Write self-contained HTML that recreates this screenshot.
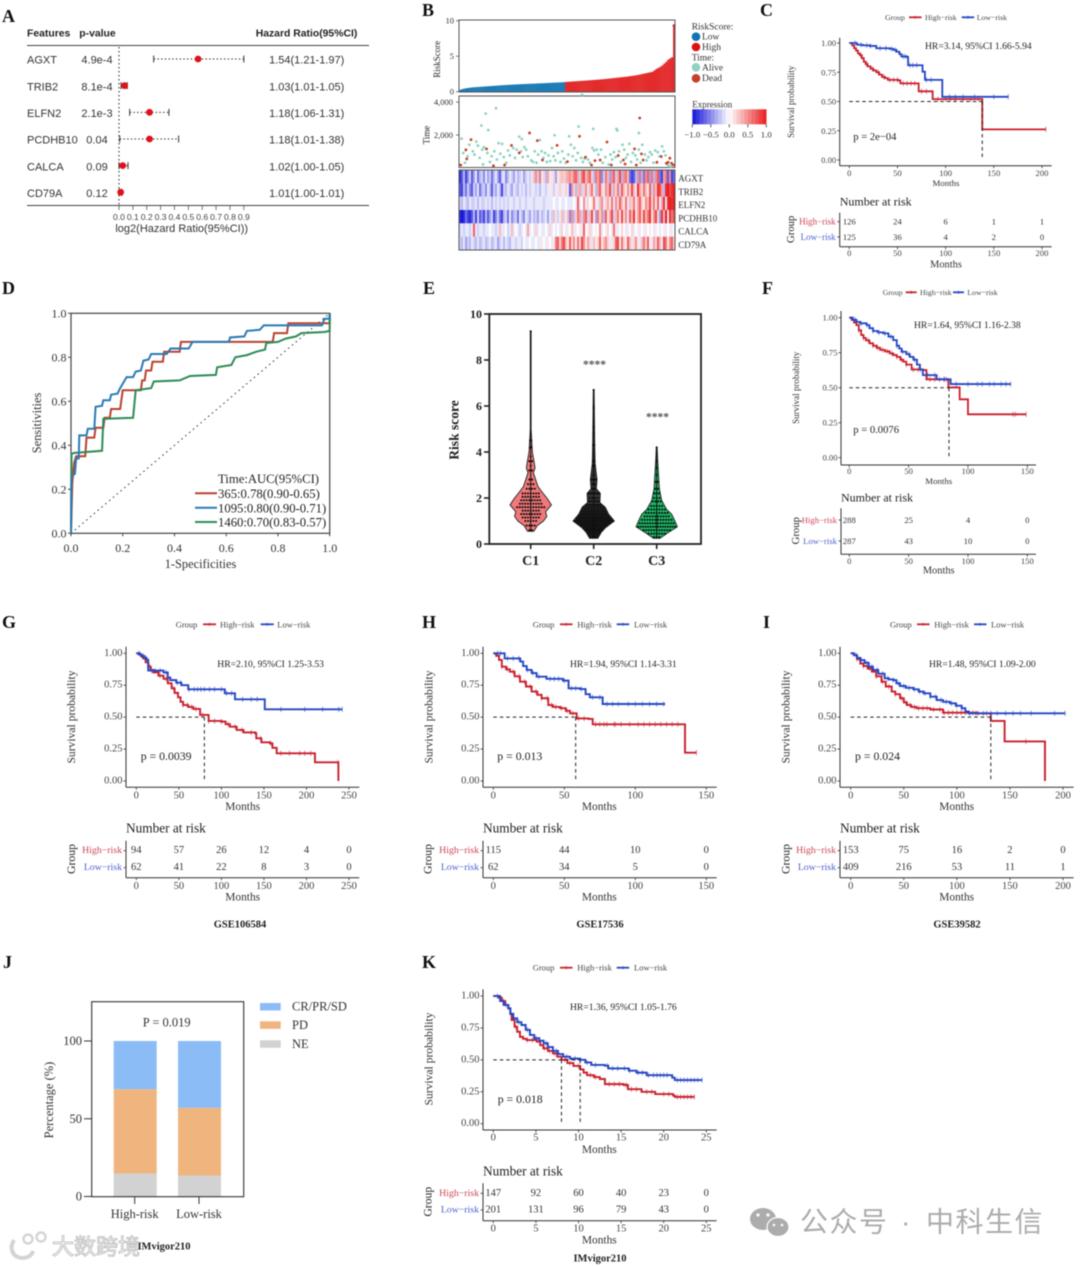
<!DOCTYPE html>
<html lang="en">
<head>
<meta charset="utf-8">
<title>Risk model figure panels</title>
<style>
html,body{margin:0;padding:0;background:#fff;}
body{width:1080px;height:1266px;overflow:hidden;}
#figure{display:block;filter:blur(.5px);}
</style>
</head>
<body>
<svg id="figure" xmlns="http://www.w3.org/2000/svg" width="1080" height="1266" viewBox="0 0 1080 1266">
<rect width="1080" height="1266" fill="#fff"/>
</svg>
<script>
/* ---------- Panel A data ---------- */
const forestFeatures = ["AGXT","TRIB2","ELFN2","PCDHB10","CALCA","CD79A"];
const forestPValues = ["4.9e-4","8.1e-4","2.1e-3","0.04","0.09","0.12"];
const forestHrLabels = ["1.54(1.21-1.97)","1.03(1.01-1.05)","1.18(1.06-1.31)","1.18(1.01-1.38)","1.02(1.00-1.05)","1.01(1.00-1.01)"];
const forestCenter = [0.57,0.04,0.22,0.22,0.027,0.012];
const forestLow = [0.25,0.015,0.077,0.005,0,0];
const forestHigh = [0.9,0.06,0.36,0.43,0.065,0.02];
const forestTicks = [0,0.1,0.2,0.3,0.4,0.5,0.6,0.7,0.8,0.9];

/* ---------- Panel B data ---------- */
const riskScores = [.25,.35,.42,.48,.52,.56,.6,.62,.64,.66,.68,.7,.72,.74,.76,.78,.8,.82,.84,.86,.88,.9,.92,.94,.95,.97,.98,1,1.01,1.03,1.04,1.06,1.07,1.08,1.1,1.11,1.12,1.13,1.14,1.16,1.17,1.18,1.19,1.2,1.22,1.23,1.24,1.26,1.27,1.28,1.3,1.31,1.33,1.35,1.37,1.39,1.41,1.43,1.45,1.47,1.49,1.51,1.53,1.55,1.57,1.59,1.61,1.63,1.65,1.67,1.69,1.71,1.74,1.76,1.79,1.82,1.85,1.88,1.91,1.94,1.97,2,2.03,2.06,2.09,2.12,2.16,2.2,2.24,2.28,2.33,2.38,2.44,2.5,2.56,2.62,2.68,2.74,2.8,3,3.2,3.35,3.5,3.7,3.95,4.2,4.5,4.7,4.85,9.3];
const riskCutoff = 1.36;
const riskTicks = [0,5,10];
const timeTicks = [2000,4000];
const aliveRank = [3,26,31,34,43,70,73,94,111,128,139,143,156,183,184,209,5,7,10,12,16,18,20,22,24,27,28,29,33,36,38,41,44,46,48,50,52,55,57,59,63,65,67,72,74,76,78,80,84,86,88,90,92,96,98,100,102,104,106,108,110,112,115,118,120,122,124,127,130,132,134,136,138,142,144,146,150,152,155,157,160,162,165,167,170,174,176,178,180,182,186,188,190,192,194,196,198,200,202,205,207,209,211,213,216,218,220,222,224,226,228,231,233,236,238,240,242,244,246];
const aliveTime = [1770,2575,3300,2300,3630,1895,1750,1690,1980,1915,2510,4450,2370,2370,2270,2120,900,300,700,1400,1000,800,1600,1350,600,1100,200,1250,900,350,700,1000,500,1500,850,1450,650,300,1050,750,1200,600,1100,1000,650,1250,1100,700,450,350,1000,300,800,1000,600,900,350,750,400,1200,700,450,900,350,1000,550,300,800,1400,700,1200,450,900,600,350,550,500,300,1200,1050,1100,800,1100,300,650,200,800,500,950,650,1000,350,1400,1100,600,800,1450,350,900,750,500,1100,300,1400,800,450,650,950,800,300,1050,950,700,1300,1000,750,200,100,80];
const deadRank = [210,82,91,140,14,8,172,114,61,32,2,9,70,97,126,147,158,164,185,204,212,191,214,230,193,245,235,243,247,249,241,206,40,53,154,177];
const deadTime = [3030,2120,1650,1915,1710,1090,1565,1360,1360,1150,165,535,905,470,370,640,430,470,740,1150,845,470,470,330,225,580,680,330,270,165,270,165,120,165,165,165];
const patientCount = 251;
const heatGenes = ["AGXT","TRIB2","ELFN2","PCDHB10","CALCA","CD79A"];
const heatAGXT = [-9,-7,-3,-8,-5,-2,-7,-4,-1,-6,-3,-2,-5,-1,-4,-2,-6,-3,-1,-4,-7,-2,-1,-5,-3,-1,-2,-4,-1,-3,-2,-1,-4,-2,-1,-2,-1,3,5,-2,6,-1,2,-3,4,1,-1,2,-4,1,2,3,2,3,4,5,3,6,7,4,-2,6,8,3,5,7,2,-3,6,4,7,-5,-2,6,3,-4,5,7,-2,4,8,-3,5,6,3,-6,-8,-7,-3,5,-5,4,-6,5,7,-4,6,-3,5,7,-6,-8,4,6,-7,5,-8,-6];
const heatTRIB2 = [-7,-8,-3,-6,-2,-5,-7,-2,-4,-1,-6,-3,-2,-5,-1,-3,-7,-2,-4,-1,-3,-8,-2,-3,-1,-2,-4,-1,-2,-3,-1,-2,-1,-3,-1,-2,-1,-1,-2,-1,-3,-1,-1,-2,-1,1,-1,-2,1,-1,2,-1,1,2,-1,-7,5,2,-3,3,4,-2,2,5,-1,3,6,1,-3,4,7,2,-1,5,3,8,-2,4,2,6,-2,7,3,1,5,2,8,3,-1,9,4,2,6,3,1,7,-2,5,3,9,8,4,-3,9,10,8,9,10];
const heatELFN2 = [-2,-3,-1,-2,-3,-1,-2,-2,-1,-3,-1,-2,-2,-1,-2,-1,-3,-1,-2,-1,-2,-1,-2,-1,-2,-1,-1,-2,-1,-1,-2,-1,-1,-2,-1,-1,-1,-2,-1,-1,-1,-1,-2,-1,-1,-1,-1,0,-1,-1,0,-1,-1,0,-1,-1,-1,0,-1,7,-1,0,5,-1,2,0,1,6,1,-1,3,5,-1,2,4,1,6,-1,5,2,7,3,1,6,-1,3,2,6,1,4,7,2,1,5,3,8,2,6,1,7,-1,4,9,-1,9,10,9,10];
const heatPCDHB10 = [-9,-10,-9,-6,-8,-9,-7,-3,-8,-2,-7,-5,-8,-3,-7,-4,-2,-8,-5,-2,-6,-8,-3,-2,-6,-1,-5,-3,-2,-6,-1,-3,-5,-1,-2,-4,-1,-3,-2,-4,-1,-3,-2,-1,-4,-1,-2,3,-1,-2,1,3,-2,1,3,-5,5,-3,2,6,4,-2,5,7,-2,3,8,1,-4,6,2,5,-3,7,1,4,8,-2,3,6,1,8,2,5,-1,7,3,9,1,4,7,2,8,3,6,9,1,5,8,2,-4,9,3,10,-1,9,6,8];
const heatCALCA = [-2,-1,-2,-1,-1,-2,-1,7,-1,-2,-1,-1,-2,-1,-1,0,-1,-1,-2,-1,3,-1,-1,0,-2,-1,3,-1,0,-1,-2,-1,0,-1,4,-1,0,-1,2,-1,0,-1,-1,0,-1,2,-1,0,-1,0,-1,2,0,-1,1,0,3,-1,1,0,1,-1,7,0,1,2,-1,0,1,0,5,-1,0,1,2,0,-1,6,1,-1,0,2,0,-1,1,0,2,-1,0,1,-1,0,1,-1,0,1,0,-1,1,0,-1,0,1,-1,0,1,-1,0];
const heatCD79A = [-2,-3,-1,-4,-2,-3,-1,-2,-3,-1,-3,-2,-1,-3,-2,-1,-3,-2,-1,-4,-2,-1,-3,-1,-2,-3,-1,-1,-2,-1,-1,-2,0,-1,-1,0,-1,-1,0,-1,-1,1,0,-1,1,0,-1,1,6,7,2,6,8,3,1,7,2,5,1,6,2,8,5,1,4,2,-1,3,1,2,7,1,3,5,2,1,-1,2,7,8,1,6,2,1,7,3,-1,2,5,1,-1,3,6,2,7,1,-1,4,2,7,3,-1,8,6,1,5,7,2];

/* ---------- Panel C data ---------- */
const cTicks = [0,50,100,150,200];
const cHighTimes = [3,5,7,9,11,13,15,17,19,22,25,28,31,34,37,40,51,53,72,86.5,138,204];
const cHighSurv = [.98,.955,.935,.91,.895,.87,.84,.82,.80,.78,.765,.75,.73,.71,.70,.685,.68,.655,.587,.52,.262,.262];
const cHighCensor = [12,18,24,30,36,42,46,50,56,60,64,68,75,80,92,100,105,110,118,126,134,204];
const cLowTimes = [8,14,21,28,42,46,49,52,54,60,61,76,78.5,96.5,165];
const cLowSurv = [.985,.98,.975,.955,.95,.94,.925,.905,.885,.88,.81,.755,.685,.54,.54];
const cLowCensor = [6,12,18,22,32,38,44,48,56,58,63,66,70,80,85,104,110,118,130,150,165];
const cRiskHigh = [126,24,6,1,1];
const cRiskLow = [125,36,4,2,0];
const cMedians = [138];

/* ---------- Panel D data ---------- */
const roc365Fpr = [0,.005,.012,.02,.055,.06,.09,.095,.125,.13,.15,.155,.19,.2,.27,.275,.285,.29,.31,.315,.355,.36,.42,.425,.78,.785,.835,.84,1,1];
const roc365Tpr = [0,.23,.32,.35,.35,.435,.435,.48,.48,.525,.525,.565,.565,.65,.65,.695,.695,.74,.74,.78,.78,.825,.825,.87,.87,.91,.91,.955,.955,1];
const roc1095Fpr = [0,.002,.015,.02,.03,.032,.06,.065,.09,.095,.12,.125,.15,.155,.18,.19,.2,.215,.24,.25,.27,.28,.3,.31,.37,.385,.455,.47,.61,.615,.67,.68,.73,.745,.97,.98,1,1];
const roc1095Tpr = [0,.26,.27,.34,.34,.445,.445,.475,.475,.575,.58,.605,.605,.63,.635,.66,.68,.71,.71,.735,.74,.785,.79,.815,.815,.84,.84,.87,.87,.89,.895,.92,.925,.945,.945,.975,.975,1];
const roc1460Fpr = [0,.002,.01,.12,.125,.24,.25,.31,.32,.42,.46,.56,.565,.62,.635,.68,.715,.75,.755,.8,.83,.87,.89,.98,1,1];
const roc1460Tpr = [0,.36,.365,.375,.52,.525,.65,.66,.69,.695,.715,.72,.755,.765,.8,.81,.825,.835,.865,.87,.885,.895,.91,.915,.92,1];
const rocTicks = [0,.2,.4,.6,.8,1];
const rocLegend = ["365:0.78(0.90-0.65)","1095:0.80(0.90-0.71)","1460:0.70(0.83-0.57)"];

/* ---------- Panel E data ---------- */
const violinGroups = ["C1","C2","C3"];
const violinTicks = [0,2,4,6,8,10];
const c1Grid = [.55,.8,1,1.2,1.4,1.7,2,2.2,2.5,2.8,3.1,3.3,3.6,4,4.5,5,9.25];
const c1Density = [.15,.32,.62,.78,.72,1,.78,.6,.35,.24,.13,.21,.16,.08,.05,.02,.02];
const c2Grid = [.25,.5,.7,1,1.3,1.6,1.8,2.2,2.4,2.8,3.5,4.3,6.7];
const c2Density = [.2,.36,.56,1,.72,.56,.3,.32,.13,.16,.07,.05,.02];
const c3Grid = [.25,.5,.75,1,1.3,1.5,1.9,2.4,3.6,4.2];
const c3Density = [.16,.56,1,.88,.72,.48,.24,.13,.05,.02];
const c1Values = [.6,.8,1,1.15,1.3,1.45,1.6,1.75,1.9,2.05,2.2,2.4,2.6,2.8,3.2,3.4,3.6,3.8,4.2,4.5,9.25];
const c1Counts = [2,4,5,7,8,7,11,9,8,7,7,4,3,2,2,1,2,1,2,2,1];
const c2Values = [.3,.4,.5,.6,.7,.8,.9,1,1.1,1.2,1.3,1.4,1.5,1.6,1.7,1.85,2,2.2,2.4,2.6,2.8,3,3.4,3.6,4.3,4.8,5.1,5.9,6,6.7];
const c2Counts = [4,6,9,13,16,18,22,30,22,18,15,13,11,9,8,5,4,7,2,2,4,1,2,2,2,1,1,1,1,1];
const c3Values = [.3,.45,.6,.75,.9,1.05,1.2,1.35,1.5,1.65,1.85,2,2.2,2.4,2.7,3,3.3,3.6,4.2];
const c3Counts = [3,7,11,16,14,12,10,9,7,5,4,3,3,2,2,1,1,1,1];

/* ---------- Panel F data ---------- */
const fTicks = [0,50,100,150];
const fHighTimes = [2,4,6,8,10,12,14,17,20,23,26,30,34,37,40,43,45.5,48,52.5,62,65,83.5,93,100,149];
const fHighSurv = [.985,.965,.947,.91,.876,.855,.838,.817,.80,.785,.77,.76,.745,.733,.72,.70,.686,.665,.63,.626,.56,.502,.417,.31,.31];
const fHighCensor = [8,12,16,20,24,28,32,36,40,44,48,54,58,68,72,76,80,82,138,140,149];
const fLowTimes = [3,6,9,14.6,17,20,24,28.6,33,37,40,42,44,48,51,54,57,59.5,62,73.6,85.4,136];
const fLowSurv = [.985,.97,.96,.947,.925,.905,.895,.888,.865,.84,.80,.78,.757,.74,.72,.70,.665,.63,.59,.56,.526,.526];
const fLowCensor = [5,10,15,20,25,30,35,40,45,50,55,60,66,72,80,90,100,108,112,118,122,128,132,136];
const fRiskHigh = [288,25,4,0];
const fRiskLow = [287,43,10,0];
const fMedians = [84];

/* ---------- Panel G data ---------- */
const gTicks = [0,50,100,150,200,250];
const gHighTimes = [3,6,8,11,14,17,20,26,32,37,41.5,45,49,52,55,61,67,75,85,100,105,110,118,126,140,141,147,157,160,165,210,237.5];
const gHighSurv = [.99,.975,.96,.93,.895,.87,.85,.825,.80,.765,.726,.69,.655,.62,.595,.58,.564,.517,.47,.465,.445,.425,.40,.38,.373,.334,.303,.295,.26,.217,.146,0];
const gHighCensor = [5,10,16,28,35,44,55,60,65,70,78,85,92,100,108,116,124,135,146,158,170,180,192,198,205,237];
const gLowTimes = [4,6,9,12,14,32,37,40,47,53,61,104,116,151,242];
const gLowSurv = [.99,.98,.965,.95,.865,.85,.81,.79,.77,.75,.718,.687,.64,.561,.561];
const gLowCensor = [3,8,11,18,22,28,35,48,52,62,68,72,76,80,86,92,100,106,112,125,135,142,170,198,219,238,242];
const gRiskHigh = [94,57,26,12,4,0];
const gRiskLow = [62,41,22,8,3,0];
const gMedians = [80];

/* ---------- Panel H data ---------- */
const hTicks = [0,50,100,150];
const hHighTimes = [2,4,6,9,11.7,15,18.8,23,27,31,34,38.7,42,47,51,54,58.7,67,70,135,143];
const hHighSurv = [.98,.948,.895,.875,.856,.82,.778,.74,.70,.675,.648,.595,.58,.57,.55,.53,.49,.486,.444,.222,.222];
const hHighCensor = [6,10,14,18,22,26,30,34,38,41,44,48,52,56,60,64,72,75,78,80,85,86,90,96,102,106,110,114,118,122,126,130,143];
const hLowTimes = [6,8,19,21,23.5,27,30.5,37.5,49,53,61,65,68,77,121];
const hLowSurv = [1,.96,.935,.90,.87,.845,.817,.80,.786,.726,.72,.68,.655,.603,.603];
const hLowCensor = [3,5,10,14,18,24,28,32,40,43,46,50,55,58,62,70,75,80,84,88,95,100,105,110,115,120];
const hRiskHigh = [115,44,10,0];
const hRiskLow = [62,34,5,0];
const hMedians = [58];

/* ---------- Panel I data ---------- */
const iTicks = [0,50,100,150,200];
const iHighTimes = [3,6,9,12,16,20,24,29,33,38.6,42,46.5,50,53,57,62,75,87,119,132,145,183];
const iHighSurv = [.985,.955,.92,.90,.88,.856,.82,.778,.74,.70,.68,.648,.615,.595,.58,.57,.56,.535,.53,.47,.31,0];
const iHighCensor = [6,12,18,24,30,36,42,48,52,56,60,64,68,72,78,84,88,92,96,100,104,108,115,120,128,165];
const iLowTimes = [3,6,9,13,17,21,26,32,36,40,43,46.5,52,59,64,68.5,75,81,87,93.5,99,104.5,108,111,202];
const iLowSurv = [.985,.965,.947,.925,.895,.87,.84,.804,.795,.79,.765,.744,.73,.718,.70,.687,.66,.634,.62,.608,.59,.57,.545,.53,.53];
const iLowCensor = [5,10,15,20,25,30,35,40,45,50,55,60,65,70,75,80,85,90,95,100,105,112,118,125,132,138,146,153,160,170,192,202];
const iRiskHigh = [153,75,16,2,0];
const iRiskLow = [409,216,53,11,1];
const iMedians = [132];

/* ---------- Panel J data ---------- */
const stackGroups = ["High-risk","Low-risk"];
const stackNE = [14.8,13.5];
const stackPD = [54.2,43.5];
const stackCR = [31,43];
const stackTicks = [0,50,100];
const stackLegend = ["CR/PR/SD","PD","NE"];

/* ---------- Panel K data ---------- */
const kTicks = [0,5,10,15,20,25];
const kHighTimes = [.6,1,1.4,1.76,2,2.15,2.5,2.8,3.13,3.5,3.9,5.1,5.5,5.87,6.4,7,7.5,8,8.7,9.4,10.2,10.6,11,11.8,12.5,13.1,15.3,15.8,17.4,19,21.1,21.3,23.6];
const kHighSurv = [.987,.96,.93,.903,.86,.812,.76,.72,.68,.665,.655,.642,.615,.59,.57,.55,.525,.50,.475,.452,.425,.40,.38,.365,.35,.31,.303,.27,.25,.232,.22,.21,.21];
const kHighCensor = [1.2,2.6,4,4.6,6,6.6,7.2,8.4,9,10,11.4,12,13.6,14.2,14.8,15.6,16.2,16.8,18,18.6,20,20.6,21.6,22,22.4,22.8,23.2,23.6];
const kLowTimes = [.8,1.2,1.76,2,2.35,2.8,3.3,3.8,4.3,4.8,5.4,5.9,6.4,7,7.6,8.2,9,10.2,10.8,11.5,13.1,13.5,15,15.9,16.8,18,20.5,21,21.3,24.5];
const kLowSurv = [.96,.93,.903,.86,.825,.795,.773,.735,.695,.67,.65,.63,.60,.57,.545,.525,.51,.50,.48,.46,.454,.433,.433,.415,.40,.38,.38,.36,.342,.342];
const kLowCensor = [.5,1.5,3,4,5,6.2,7.4,8.6,9.6,11,12,13.4,14,14.6,15.4,16,17,17.5,18.2,18.8,19.2,19.6,20,20.4,21.6,22,22.4,22.8,23.2,23.6,24,24.5];
const kRiskHigh = [147,92,60,40,23,0];
const kRiskLow = [201,131,96,79,43,0];
const kMedians = [8,10.2];

/* ---------- helpers ---------- */
const SVG_NS = 'http://www.w3.org/2000/svg';
const root = document.getElementById('figure');
const SERIF = '"Liberation Serif", serif';
const SANS = '"Liberation Sans", sans-serif';
function add(parent, tag, attrs, name) {
  const el = document.createElementNS(SVG_NS, tag);
  for (const k in attrs) el.setAttribute(k, attrs[k]);
  
  
  parent.appendChild(el);
  return el;
}
function txt(parent, x, y, str, o, name) {
  const a = Object.assign({x: x, y: y, 'font-family': SERIF, 'font-size': 10, fill: '#222', 'text-anchor': 'start', 'dominant-baseline': 'central'}, o || {});
  const el = add(parent, 'text', a, name);
  el.textContent = str;
  return el;
}
function vtxt(parent, x, y, str, o, name) {
  return txt(parent, x, y, str, Object.assign({transform: 'rotate(-90 ' + x + ' ' + y + ')', 'text-anchor': 'middle'}, o || {}), name);
}
function line(parent, x1, y1, x2, y2, stroke, w, name, extra) {
  return add(parent, 'line', Object.assign({x1: x1, y1: y1, x2: x2, y2: y2, stroke: stroke, 'stroke-width': w}, extra || {}), name);
}
function group(name) { return add(root, 'g', {}, name); }
function panelLetter(letter, x, y) {
  txt(root, x, y, letter, {'font-size': 18, 'font-weight': 'bold', fill: '#111', 'dominant-baseline': 'auto'}, 'panel-label-' + letter.toLowerCase());
}
panelLetter('A', 2, 22); panelLetter('B', 422, 16); panelLetter('C', 760, 16);
panelLetter('D', 2, 294); panelLetter('E', 423, 294); panelLetter('F', 762, 294);
panelLetter('G', 2, 628); panelLetter('H', 422, 628); panelLetter('I', 763, 628);
panelLetter('J', 3, 968); panelLetter('K', 422, 968);

/* ---------- Panel A ---------- */
(function () {
  const g = group('forest-plot-panel');
  const x = v => 119 + v * 138.7;
  const rowText = i => 60.7 + i * 26.66;
  const rowMark = i => 59 + i * 26.66;
  const sans = {'font-family': SANS, 'font-size': 11, fill: '#333'};
  const bold = {'font-family': SANS, 'font-size': 10.4, 'font-weight': 'bold', fill: '#222'};
  txt(g, 27, 34, 'Features', bold, 'features-header');
  txt(g, 79.3, 34, 'p-value', bold, 'p-value-header');
  txt(g, 255.7, 34, 'Hazard Ratio(95%CI)', bold, 'hazard-ratio-header');
  line(g, 27, 45.5, 369, 45.5, '#444', 1, 'forest-top-rule');
  line(g, 27, 205.5, 369, 205.5, '#444', 1, 'forest-bottom-rule');
  line(g, x(0), 47, x(0), 206, '#444', 1.2, 'forest-null-line', {'stroke-dasharray': '1.5 2.5'});
  forestFeatures.forEach((f, i) => {
    txt(g, 27, rowText(i), f, sans, 'feature-label-' + f.toLowerCase());
    txt(g, 97, rowText(i), forestPValues[i], Object.assign({'text-anchor': 'middle'}, sans), 'p-value-' + f.toLowerCase());
    txt(g, 306.7, rowText(i), forestHrLabels[i], Object.assign({'text-anchor': 'middle'}, sans), 'hr-label-' + f.toLowerCase());
    const y = rowMark(i);
    line(g, x(forestLow[i]), y, x(forestHigh[i]), y, '#333', 1, 'ci-line-' + f.toLowerCase(), {'stroke-dasharray': '1.5 2.2'});
    line(g, x(forestLow[i]), y - 3.5, x(forestLow[i]), y + 3.5, '#333', 1, 'ci-low-cap-' + f.toLowerCase());
    line(g, x(forestHigh[i]), y - 3.5, x(forestHigh[i]), y + 3.5, '#333', 1, 'ci-high-cap-' + f.toLowerCase());
    add(g, 'circle', {cx: x(forestCenter[i]), cy: y, r: 3.4, fill: '#e0101c'}, 'hr-point-' + f.toLowerCase());
  });
  forestTicks.forEach(t => {
    line(g, x(t), 206, x(t), 210, '#555', .8, 'forest-x-tick');
    txt(g, x(t), 217, t.toFixed(1), {'font-family': SANS, 'font-size': 8.6, fill: '#444', 'text-anchor': 'middle'}, 'forest-x-tick-label');
  });
  txt(g, 181.7, 229, 'log2(Hazard Ratio(95%CI))', {'font-family': SANS, 'font-size': 11, fill: '#333', 'text-anchor': 'middle'}, 'forest-x-axis-title');
})();

/* ---------- Panel B ---------- */
function heatColor(v) {
  const t = Math.min(1, Math.abs(v) / 10);
  const hi = v < 0 ? [20, 20, 215] : [232, 28, 28];
  const c = hi.map(h => Math.round(255 + (h - 255) * t));
  return 'rgb(' + c.join(',') + ')';
}
(function () {
  const g = group('risk-heatmap-panel');
  const L = 459, R = 675, W = R - L;
  const axisC = '#555';
  const yRisk = v => 91.7 - v * 7.1;
  const bw = W / riskScores.length;
  riskScores.forEach((v, i) => {
    add(g, 'rect', {x: L + i * bw, y: yRisk(v), width: bw + .15, height: 91.7 - yRisk(v), fill: v < riskCutoff ? '#1b7bb5' : '#e32b2b'}, 'risk-score-bar');
  });
  const tp = riskScores[riskScores.length - 1];
  add(g, 'circle', {cx: R - bw / 2, cy: yRisk(tp), r: 1.4, fill: '#c8202e'}, 'max-risk-point');
  add(g, 'rect', {x: L, y: 20, width: W, height: 72, fill: 'none', stroke: axisC, 'stroke-width': 1}, 'risk-score-frame');
  riskTicks.forEach(t => {
    line(g, L - 3, yRisk(t), L, yRisk(t), axisC, .8, 'risk-y-tick');
    txt(g, 454, yRisk(t), String(t), {'font-size': 8.5, 'text-anchor': 'end', fill: '#333'}, 'risk-y-tick-label');
  });
  vtxt(g, 437, 59.3, 'RiskScore', {'font-size': 9}, 'risk-score-axis-title');

  const xRank = r => L + (r / patientCount) * W;
  const yTime = v => 167.7 - v / 61;
  add(g, 'rect', {x: L, y: 96, width: W, height: 71.5, fill: 'none', stroke: axisC, 'stroke-width': 1}, 'time-scatter-frame');
  aliveRank.forEach((r, i) => {
    add(g, 'circle', {cx: xRank(r), cy: yTime(aliveTime[i]), r: 1.4, fill: '#8fd3c0'}, 'alive-point');
  });
  deadRank.forEach((r, i) => {
    add(g, 'circle', {cx: xRank(r), cy: yTime(deadTime[i]), r: 1.4, fill: '#c4402a'}, 'dead-point');
  });
  timeTicks.forEach(t => {
    line(g, L - 3, yTime(t), L, yTime(t), axisC, .8, 'time-y-tick');
    txt(g, 453, yTime(t), t.toLocaleString('en-US'), {'font-size': 8.5, 'text-anchor': 'end', fill: '#333'}, 'time-y-tick-label');
  });
  vtxt(g, 426.7, 135, 'Time', {'font-size': 9}, 'time-axis-title');

  const rows = [heatAGXT, heatTRIB2, heatELFN2, heatPCDHB10, heatCALCA, heatCD79A];
  const rh = 80 / rows.length;
  rows.forEach((vals, ri) => {
    const cw = W / vals.length;
    vals.forEach((v, ci) => {
      add(g, 'rect', {x: L + ci * cw, y: 170 + ri * rh, width: cw + .15, height: rh + .1, fill: heatColor(v)}, 'heatmap-cell');
    });
    txt(g, 678.3, 178.7 + ri * 13.25, heatGenes[ri], {'font-size': 9, fill: '#333'}, 'heatmap-gene-label-' + heatGenes[ri].toLowerCase());
  });
  add(g, 'rect', {x: L, y: 170, width: W, height: 80, fill: 'none', stroke: axisC, 'stroke-width': 1}, 'heatmap-frame');

  const f = {'font-size': 9.5, fill: '#333'};
  txt(g, 691.7, 27.7, 'RiskScore:', f, 'riskscore-legend-title');
  add(g, 'circle', {cx: 696, cy: 36.7, r: 4.3, fill: '#1173b2'}, 'legend-low-marker');
  txt(g, 702, 37.7, 'Low', f, 'legend-low-label');
  add(g, 'circle', {cx: 696, cy: 47, r: 4.3, fill: '#dd1010'}, 'legend-high-marker');
  txt(g, 702, 48, 'High', f, 'legend-high-label');
  txt(g, 691.7, 58.3, 'Time:', f, 'time-legend-title');
  add(g, 'circle', {cx: 696, cy: 67.3, r: 4.3, fill: '#8fd3c0'}, 'legend-alive-marker');
  txt(g, 702, 68.5, 'Alive', f, 'legend-alive-label');
  add(g, 'circle', {cx: 696, cy: 78.3, r: 4.3, fill: '#c4402a'}, 'legend-dead-marker');
  txt(g, 702, 79, 'Dead', f, 'legend-dead-label');
  txt(g, 692.3, 104.7, 'Expression', {'font-size': 9, fill: '#333'}, 'expression-legend-title');
  const bands = 20, bx = 692.3, bwid = 74;
  for (let i = 0; i < bands; i++) {
    add(g, 'rect', {x: bx + i * bwid / bands, y: 109.3, width: bwid / bands + .2, height: 15, fill: heatColor(-10 + (i + .5) * 20 / bands)}, 'expression-legend-band');
  }
  ['\u22121.0', '\u22120.5', '0.0', '0.5', '1.0'].forEach((s, i) => {
    const tx = bx + i * bwid / 4;
    line(g, tx, 124.3, tx, 127.3, '#333', .8, 'expression-tick');
    txt(g, tx, 134.3, s, {'font-size': 8.8, 'text-anchor': 'middle', fill: '#333'}, 'expression-tick-label');
  });
})();

/* ---------- KM plots ---------- */
const KM_RED = '#c8202e', KM_BLUE = '#2446c4';
function survAt(times, surv, t) {
  let s = 1;
  for (let i = 0; i < times.length; i++) { if (times[i] <= t) s = surv[i]; }
  return s;
}
function drawKM(L, D) {
  const g = group(L.name);
  const x = t => L.x0 + (t - D.ticks[0]) * (L.xEnd - L.x0) / (D.ticks[D.ticks.length - 1] - D.ticks[0]);
  const y = s => L.y0 + (L.y1 - L.y0) * s;
  const axis = '#333', tc = '#444';
  /* legend */
  const lf = {'font-size': L.legendFs, fill: '#444'};
  txt(g, L.lg[0], L.legendY, 'Group', lf, 'legend-title');
  line(g, L.lg[1], L.legendY, L.lg[1] + L.lg[2], L.legendY, KM_RED, 1.8, 'legend-high-risk-line');
  line(g, L.lg[1] + L.lg[2] / 2, L.legendY - 1.5, L.lg[1] + L.lg[2] / 2, L.legendY + 1.5, KM_RED, .8, 'legend-high-risk-tick');
  txt(g, L.lg[3], L.legendY, 'High\u2212risk', lf, 'legend-high-risk-label');
  line(g, L.lg[4], L.legendY, L.lg[4] + L.lg[2], L.legendY, KM_BLUE, 1.8, 'legend-low-risk-line');
  line(g, L.lg[4] + L.lg[2] / 2, L.legendY - 1.5, L.lg[4] + L.lg[2] / 2, L.legendY + 1.5, KM_BLUE, .8, 'legend-low-risk-tick');
  txt(g, L.lg[5], L.legendY, 'Low\u2212risk', lf, 'legend-low-risk-label');
  /* series */
  function stepPath(times, surv) {
    let d = 'M' + x(0) + ' ' + y(1);
    times.forEach((t, i) => { d += 'H' + x(t) + 'V' + y(surv[i]); });
    return d;
  }
  function series(times, surv, censor, col, nm) {
    censor.forEach(t => {
      const s = survAt(times, surv, t);
      line(g, x(t), y(s) - 2.6, x(t), y(s) + 2.6, col, 1, nm + '-censor-mark', {opacity: .6});
    });
    add(g, 'path', {d: stepPath(times, surv), fill: 'none', stroke: col, 'stroke-width': L.lineW}, nm + '-survival-curve');
  }
  series(D.highT, D.highS, D.highC, KM_RED, 'high-risk');
  series(D.lowT, D.lowS, D.lowC, KM_BLUE, 'low-risk');
  /* medians */
  const mx = Math.max.apply(null, D.medians);
  line(g, x(0), y(.5), x(mx), y(.5), '#222', 1, 'median-horizontal-line', {'stroke-dasharray': '3.5 3'});
  D.medians.forEach(m => line(g, x(m), y(.5), x(m), y(0), '#222', 1, 'median-vertical-line', {'stroke-dasharray': '3.5 3'}));
  /* axes */
  line(g, L.axL, L.axT, L.axL, L.axB, axis, 1, 'km-y-axis');
  line(g, L.axL, L.axB, L.axR, L.axB, axis, 1, 'km-x-axis');
  [0, .25, .5, .75, 1].forEach(v => {
    line(g, L.axL - 2.5, y(v), L.axL, y(v), axis, .8, 'km-y-tick');
    txt(g, L.axL - 3.5, y(v), v.toFixed(2), {'font-size': L.tickFs, 'text-anchor': 'end', fill: tc}, 'km-y-tick-label');
  });
  D.ticks.forEach(t => {
    line(g, x(t), L.axB, x(t), L.axB + 2.5, axis, .8, 'km-x-tick');
    txt(g, x(t), L.tickY, String(t), {'font-size': L.tickFs, 'text-anchor': 'middle', fill: tc}, 'km-x-tick-label');
  });
  vtxt(g, L.survX, L.survCy, 'Survival probability', {'font-size': L.survFs, fill: '#333'}, 'km-y-axis-title');
  txt(g, L.monthsCx, L.monthsY, 'Months', {'font-size': L.monthsFs, 'text-anchor': 'middle', fill: '#333'}, 'km-x-axis-title');
  txt(g, L.hrX, L.hrY, D.hr, {'font-size': L.hrFs, fill: '#222'}, 'hazard-ratio-annotation');
  txt(g, L.pX, L.pY, D.p, {'font-size': L.pFs, fill: '#222'}, 'p-value-annotation');
  /* risk table */
  txt(g, L.axL, L.narY, 'Number at risk', {'font-size': L.narFs, fill: '#222'}, 'number-at-risk-title');
  line(g, L.axL, L.tT, L.axL, L.tB, axis, 1, 'risk-table-y-axis');
  line(g, L.axL, L.tB, L.axR, L.tB, axis, 1, 'risk-table-x-axis');
  [[L.rH, 'High\u2212risk', '#cc4455', D.riskH, 'high-risk'], [L.rL, 'Low\u2212risk', '#4a5fd0', D.riskL, 'low-risk']].forEach(r => {
    line(g, L.axL - 2.5, r[0], L.axL, r[0], axis, .8, 'risk-table-y-tick');
    txt(g, L.axL - 4, r[0], r[1], {'font-size': L.riskLabFs, 'text-anchor': 'end', fill: r[2]}, r[4] + '-table-label');
    r[3].forEach((n, i) => {
      txt(g, x(D.ticks[i]), r[0], String(n), {'font-size': L.tickFs, 'text-anchor': 'middle', fill: '#333'}, r[4] + '-at-risk-count');
    });
  });
  D.ticks.forEach(t => {
    line(g, x(t), L.tB, x(t), L.tB + 2.5, axis, .8, 'risk-table-x-tick');
    txt(g, x(t), L.tTickY, String(t), {'font-size': L.tickFs, 'text-anchor': 'middle', fill: tc}, 'risk-table-x-tick-label');
  });
  txt(g, L.monthsCx, L.tMonthsY, 'Months', {'font-size': L.tMonthsFs, 'text-anchor': 'middle', fill: '#333'}, 'risk-table-x-axis-title');
  vtxt(g, L.groupX, L.groupCy, 'Group', {'font-size': L.groupFs, fill: '#222'}, 'risk-table-group-title');
  if (L.caption) {
    txt(g, L.captionX, L.captionY, L.caption, {'font-size': 10.5, 'font-weight': 'bold', 'text-anchor': 'middle', fill: '#222'}, 'dataset-caption');
  }
}
const smallKM = {legendFs: 7.8, tickFs: 8.6, survFs: 9, monthsFs: 8.8, hrFs: 9.6, pFs: 10.6, narFs: 12, riskLabFs: 9, tMonthsFs: 10.4, groupFs: 10.7, lineW: 1.8};
const bigKM = {legendFs: 8.5, tickFs: 10.5, survFs: 11.6, monthsFs: 11.4, hrFs: 9.6, pFs: 11.8, narFs: 13.3, riskLabFs: 9.8, tMonthsFs: 11.4, groupFs: 11.7, lineW: 1.9};
const ggRow = {y1: 653.3, y0: 781, axT: 646.7, axB: 787.3, tickY: 796, monthsY: 807, narY: 828, rH: 850.7, rL: 867.7, tT: 840.7, tB: 877.7, tTickY: 886.7, tMonthsY: 897.7, legendY: 624.3, survCy: 717, groupCy: 859, hrY: 664.3, pY: 756, captionY: 925};

drawKM(Object.assign({}, smallKM, {name: 'km-panel-c', x0: 849.3, xEnd: 1042, y1: 43, y0: 160, axL: 839.7, axR: 1051.7, axT: 37.7, axB: 165.7, tickY: 173, monthsY: 183, monthsCx: 946, narY: 201.7, rH: 221.7, rL: 237, tT: 212.7, tB: 246.7, tTickY: 253, tMonthsY: 265, legendY: 17.3, lg: [885, 909, 12.5, 925, 961.7, 976.7], survX: 791, survCy: 101.7, groupX: 791, groupCy: 229.3, hrX: 925, hrY: 46.7, pX: 853.3, pY: 137.3}),
  {ticks: cTicks, highT: cHighTimes, highS: cHighSurv, highC: cHighCensor, lowT: cLowTimes, lowS: cLowSurv, lowC: cLowCensor, riskH: cRiskHigh, riskL: cRiskLow, medians: cMedians, hr: 'HR=3.14, 95%CI 1.66-5.94', p: 'p = 2e\u221204'});
drawKM(Object.assign({}, smallKM, {name: 'km-panel-f', x0: 849.3, xEnd: 1027.3, y1: 317.7, y0: 457.7, axL: 841, axR: 1036, axT: 311, axB: 465, tickY: 471, monthsY: 481, monthsCx: 938.7, narY: 497.7, rH: 520, rL: 541, tT: 508.3, tB: 554.3, tTickY: 561, tMonthsY: 571, legendY: 292.3, lg: [882.7, 905.7, 11, 920, 953, 967.3], survX: 796, survCy: 387.7, groupX: 796, groupCy: 530.7, hrX: 914, hrY: 325.7, pX: 853.3, pY: 430.7, riskLabFs: 8.7}),
  {ticks: fTicks, highT: fHighTimes, highS: fHighSurv, highC: fHighCensor, lowT: fLowTimes, lowS: fLowSurv, lowC: fLowCensor, riskH: fRiskHigh, riskL: fRiskLow, medians: fMedians, hr: 'HR=1.64, 95%CI 1.16-2.38', p: 'p = 0.0076'});
drawKM(Object.assign({}, bigKM, ggRow, {name: 'km-panel-g', x0: 136.3, xEnd: 349, axL: 126, axR: 359.3, monthsCx: 242.7, lg: [175.7, 203, 13, 220, 260.7, 277.3], survX: 71.7, groupX: 71.7, hrX: 217.3, pX: 140.7, caption: 'GSE106584', captionX: 240}),
  {ticks: gTicks, highT: gHighTimes, highS: gHighSurv, highC: gHighCensor, lowT: gLowTimes, lowS: gLowSurv, lowC: gLowCensor, riskH: gRiskHigh, riskL: gRiskLow, medians: gMedians, hr: 'HR=2.10, 95%CI 1.25-3.53', p: 'p = 0.0039'});
drawKM(Object.assign({}, bigKM, ggRow, {name: 'km-panel-h', x0: 493.3, xEnd: 706.3, axL: 483, axR: 716.7, monthsCx: 599.3, lg: [532.7, 560, 12.5, 577.3, 616.7, 634], survX: 429, groupX: 428, hrX: 570, pX: 497.3, caption: 'GSE17536', captionX: 600}),
  {ticks: hTicks, highT: hHighTimes, highS: hHighSurv, highC: hHighCensor, lowT: hLowTimes, lowS: hLowSurv, lowC: hLowCensor, riskH: hRiskHigh, riskL: hRiskLow, medians: hMedians, hr: 'HR=1.94, 95%CI 1.14-3.31', p: 'p = 0.013'});
drawKM(Object.assign({}, bigKM, ggRow, {name: 'km-panel-i', x0: 850.7, xEnd: 1063, axL: 840, axR: 1073.7, monthsCx: 956.7, lg: [890, 917, 12.5, 934.3, 974, 991], survX: 786, groupX: 786, hrX: 929, pX: 855, caption: 'GSE39582', captionX: 957}),
  {ticks: iTicks, highT: iHighTimes, highS: iHighSurv, highC: iHighCensor, lowT: iLowTimes, lowS: iLowSurv, lowC: iLowCensor, riskH: iRiskHigh, riskL: iRiskLow, medians: iMedians, hr: 'HR=1.48, 95%CI 1.09-2.00', p: 'p = 0.024'});
drawKM(Object.assign({}, bigKM, {name: 'km-panel-k', x0: 493.3, xEnd: 706.3, y1: 996, y0: 1123.7, axL: 483, axR: 716.7, axT: 989.3, axB: 1130, tickY: 1138, monthsY: 1150, monthsCx: 599.3, narY: 1171, rH: 1193.3, rL: 1210, tT: 1183.3, tB: 1220.7, tTickY: 1229, tMonthsY: 1240.7, legendY: 967.7, lg: [532.7, 560, 12.5, 577.3, 616.7, 634], survX: 429, survCy: 1059, groupX: 428, groupCy: 1201.7, hrX: 570, hrY: 1007.3, pX: 497.7, pY: 1099, caption: 'IMvigor210', captionX: 600, captionY: 1259}),
  {ticks: kTicks, highT: kHighTimes, highS: kHighSurv, highC: kHighCensor, lowT: kLowTimes, lowS: kLowSurv, lowC: kLowCensor, riskH: kRiskHigh, riskL: kRiskLow, medians: kMedians, hr: 'HR=1.36, 95%CI 1.05-1.76', p: 'p = 0.018'});

/* ---------- Panel D ---------- */
(function () {
  const g = group('roc-curve-panel');
  const x = v => 71 + v * 258.7;
  const y = v => 533.3 - v * 220;
  add(g, 'rect', {x: x(0), y: y(1), width: 258.7, height: 220, fill: 'none', stroke: '#444', 'stroke-width': 1.2}, 'roc-frame');
  line(g, x(0), y(0), x(1), y(1), '#333', 1, 'roc-reference-diagonal', {'stroke-dasharray': '1.5 3.5'});
  function curve(fpr, tpr, col, nm) {
    const pts = fpr.map((f, i) => x(f) + ',' + y(tpr[i])).join(' ');
    add(g, 'polyline', {points: pts, fill: 'none', stroke: col, 'stroke-width': 2}, nm);
  }
  curve(roc365Fpr, roc365Tpr, '#b8432f', 'roc-curve-365');
  curve(roc1460Fpr, roc1460Tpr, '#2e8b57', 'roc-curve-1460');
  curve(roc1095Fpr, roc1095Tpr, '#2a7ab5', 'roc-curve-1095');
  rocTicks.forEach(t => {
    line(g, x(0) - 3, y(t), x(0), y(t), '#444', 1, 'roc-y-tick');
    txt(g, x(0) - 4.5, y(t), t.toFixed(1), {'font-size': 12, 'text-anchor': 'end', fill: '#333'}, 'roc-y-tick-label');
    line(g, x(t), y(0), x(t), y(0) + 3, '#444', 1, 'roc-x-tick');
    txt(g, x(t), 548, t.toFixed(1), {'font-size': 12, 'text-anchor': 'middle', fill: '#333'}, 'roc-x-tick-label');
  });
  vtxt(g, 37, 423, 'Sensitivities', {'font-size': 12.4, fill: '#333'}, 'roc-y-axis-title');
  txt(g, 200.5, 564, '1-Specificities', {'font-size': 12.4, 'text-anchor': 'middle', fill: '#333'}, 'roc-x-axis-title');
  txt(g, 218, 479, 'Time:AUC(95%CI)', {'font-size': 12.7, fill: '#222'}, 'roc-legend-title');
  const lc = ['#b8432f', '#2a7ab5', '#2e8b57'], ly = [493.3, 507.7, 522];
  rocLegend.forEach((s, i) => {
    line(g, 195, ly[i], 217, ly[i], lc[i], 2, 'roc-legend-line');
    txt(g, 218, ly[i] + .7, s, {'font-size': 12.7, fill: '#222'}, 'roc-legend-label');
  });
})();

/* ---------- Panel E ---------- */
(function () {
  const g = group('violin-plot-panel');
  const y = v => 544 - v * 23;
  const centers = [530.7, 593.7, 656.7];
  const fills = ['#f0787a', '#333333', '#1db866'];
  const grids = [c1Grid, c2Grid, c3Grid];
  const dens = [c1Density, c2Density, c3Density];
  const vals = [c1Values, c2Values, c3Values];
  const cnts = [c1Counts, c2Counts, c3Counts];
  const widthAt = (grid, den, v) => {
    for (let j = 1; j < grid.length; j++) {
      if (v <= grid[j]) {
        const f = (v - grid[j - 1]) / (grid[j] - grid[j - 1]);
        return (den[j - 1] + (den[j] - den[j - 1]) * f) * 20.7;
      }
    }
    return den[den.length - 1] * 20.7;
  };
  violinGroups.forEach((nm, i) => {
    const cx = centers[i], key = nm.toLowerCase();
    let d = '';
    grids[i].forEach((v, j) => { d += (j ? 'L' : 'M') + (cx + dens[i][j] * 20.7) + ' ' + y(v); });
    for (let j = grids[i].length - 1; j >= 0; j--) { d += 'L' + (cx - dens[i][j] * 20.7) + ' ' + y(grids[i][j]); }
    add(g, 'path', {d: d + 'Z', fill: fills[i], stroke: '#222', 'stroke-width': .9, 'stroke-linejoin': 'round'}, 'violin-' + key);
    line(g, cx, y(grids[i][0]), cx, y(grids[i][grids[i].length - 1]), '#111', 1, 'violin-stem-' + key);
    vals[i].forEach((v, j) => {
      const n = cnts[i][j];
      const hw = widthAt(grids[i], dens[i], v);
      const step = Math.min(2.7, n > 1 ? 1.9 * hw / n : 2.7);
      for (let k = 0; k < n; k++) {
        const off = (k - (n - 1) / 2) * step;
        add(g, 'circle', {cx: cx + off, cy: y(v), r: 1.05, fill: '#0c0c0c'}, 'swarm-point-' + key);
      }
    });
    line(g, cx, 544, cx, 549, '#222', 1.6, 'violin-x-tick');
    txt(g, cx, 561.5, nm, {'font-size': 14, 'font-weight': 'bold', 'text-anchor': 'middle', fill: '#222'}, 'violin-x-label-' + key);
  });
  add(g, 'rect', {x: 489.3, y: 314, width: 211.7, height: 230, fill: 'none', stroke: '#222', 'stroke-width': 1.8}, 'violin-frame');
  violinTicks.forEach(t => {
    line(g, 484, y(t), 489.3, y(t), '#222', 1.6, 'violin-y-tick');
    txt(g, 482, y(t), String(t), {'font-size': 12, 'font-weight': 'bold', 'text-anchor': 'end', fill: '#222'}, 'violin-y-tick-label');
  });
  vtxt(g, 454, 430, 'Risk score', {'font-size': 13.5, 'font-weight': 'bold', fill: '#222'}, 'violin-y-axis-title');
  txt(g, 594.5, 365, '****', {'font-size': 11.5, 'font-weight': 'bold', 'text-anchor': 'middle', fill: '#555'}, 'significance-c2');
  txt(g, 657.5, 417.5, '****', {'font-size': 11.5, 'font-weight': 'bold', 'text-anchor': 'middle', fill: '#555'}, 'significance-c3');
})();

/* ---------- Panel J ---------- */
(function () {
  const g = group('stacked-bar-panel');
  const y = v => 1196.5 - v * 1.555;
  const barX = [113.7, 178], bw = 43, tickX = [134.7, 199];
  const colors = ['#d2d2d2', '#f0b57e', '#8cbcf5'];
  stackGroups.forEach((nm, i) => {
    let base = 0;
    [stackNE, stackPD, stackCR].forEach((arr, s) => {
      add(g, 'rect', {x: barX[i], y: y(base + arr[i]), width: bw, height: arr[i] * 1.555, fill: colors[s]}, 'stack-' + stackLegend[2 - s].toLowerCase().replace(/\//g, '-') + '-' + nm.toLowerCase());
      base += arr[i];
    });
    line(g, tickX[i], 1196.7, tickX[i], 1204, '#333', 1, 'stack-x-tick');
    txt(g, tickX[i], 1214, nm, {'font-size': 12.5, 'text-anchor': 'middle', fill: '#333'}, 'stack-x-label');
  });
  add(g, 'rect', {x: 91.7, y: 1001.7, width: 152, height: 195, fill: 'none', stroke: '#333', 'stroke-width': 1.1}, 'stack-frame');
  stackTicks.forEach(t => {
    line(g, 84, y(t), 91.7, y(t), '#333', 1, 'stack-y-tick');
    txt(g, 82, y(t), String(t), {'font-size': 12.5, 'text-anchor': 'end', fill: '#333'}, 'stack-y-tick-label');
  });
  vtxt(g, 49, 1100, 'Percentage (%)', {'font-size': 12.5, fill: '#333'}, 'stack-y-axis-title');
  txt(g, 166.7, 1022.7, 'P = 0.019', {'font-size': 12.5, 'text-anchor': 'middle', fill: '#333'}, 'stack-p-value');
  const legC = ['#8cbcf5', '#f0b57e', '#d2d2d2'], legY = [1006.7, 1025, 1044];
  stackLegend.forEach((s, i) => {
    add(g, 'rect', {x: 260, y: legY[i] - 3.7, width: 20.7, height: 7.5, fill: legC[i]}, 'stack-legend-swatch');
    txt(g, 292, legY[i], s, {'font-size': 12.5, fill: '#333'}, 'stack-legend-label');
  });
  txt(g, 164, 1247, 'IMvigor210', {'font-size': 10.5, 'font-weight': 'bold', 'text-anchor': 'middle', fill: '#222'}, 'stack-dataset-caption');
})();

/* ---------- Watermarks ---------- */
(function () {
  const w = group('watermark-left');
  const cjk = '"Liberation Sans", "Noto Sans CJK SC", sans-serif';
  add(w, 'path', {d: 'M14 1240 C9 1248 12 1257 22 1258 C28 1258 32 1255 33 1251', fill: 'none', stroke: '#d4d4d4', 'stroke-width': 4}, 'watermark-logo-arc');
  add(w, 'circle', {cx: 28, cy: 1239, r: 4.5, fill: 'none', stroke: '#d4d4d4', 'stroke-width': 2.4}, 'watermark-logo-ring-left');
  add(w, 'circle', {cx: 41, cy: 1237, r: 4.5, fill: 'none', stroke: '#d4d4d4', 'stroke-width': 2.4}, 'watermark-logo-ring-right');
  txt(w, 52, 1247, '大数跨境', {'font-family': cjk, 'font-size': 22, fill: '#fff', stroke: '#c4c4c4', 'stroke-width': 1}, 'watermark-left-text');
  const r = group('watermark-right');
  add(r, 'ellipse', {cx: 763, cy: 1219, rx: 13, ry: 11, fill: '#acacac'}, 'wechat-bubble-back');
  add(r, 'ellipse', {cx: 778, cy: 1227, rx: 11, ry: 9.5, fill: '#acacac', stroke: '#fff', 'stroke-width': 1.2}, 'wechat-bubble-front');
  add(r, 'circle', {cx: 758, cy: 1215, r: 1.6, fill: '#fff'}, 'wechat-eye');
  add(r, 'circle', {cx: 768, cy: 1215, r: 1.6, fill: '#fff'}, 'wechat-eye');
  add(r, 'circle', {cx: 774, cy: 1225, r: 1.3, fill: '#fff'}, 'wechat-eye');
  add(r, 'circle', {cx: 782, cy: 1225, r: 1.3, fill: '#fff'}, 'wechat-eye');
  const f = {'font-family': cjk, 'font-size': 28, fill: '#acacac', 'letter-spacing': 1.5};
  txt(r, 800, 1222, '公众号', f, 'watermark-right-text-a');
  txt(r, 901, 1222, '·', f, 'watermark-right-separator');
  txt(r, 926, 1222, '中科生信', f, 'watermark-right-text-b');
})();
</script>
</body>
</html>
